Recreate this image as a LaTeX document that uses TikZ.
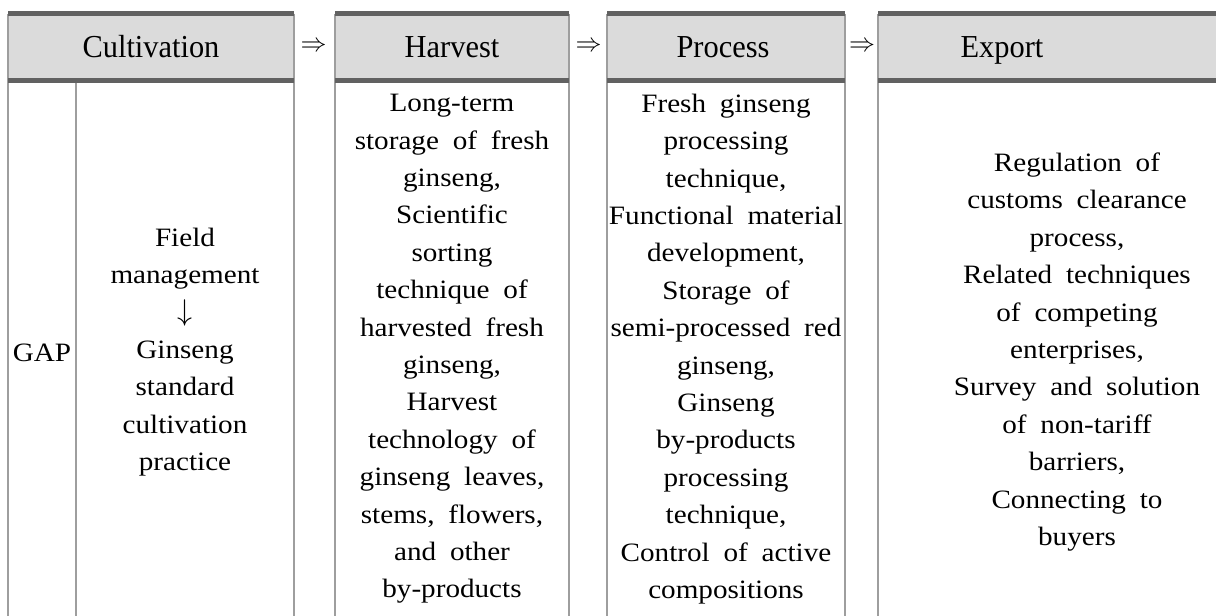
\documentclass[tikz,border=0pt]{standalone}
\usepackage{graphicx}
\usepackage{fontspec}
\setmainfont{Liberation Serif}
\newfontfamily\headfont[FakeStretch=0.95]{Liberation Serif}
\newfontfamily\bodyfont[FakeStretch=1.1,WordSpace=1.9]{Liberation Serif}
\newcommand\bigsign[2]{\scalebox{#1}{\fontsize{10}{10}\selectfont$#2$}}

\begin{document}
\begin{tikzpicture}
[x=1pt, y=-1pt,
every node/.style={inner sep=0pt, align=center},
headtext/.style={font=\headfont\fontsize{32}{32}\selectfont, anchor=base},
bodytext/.style={font=\bodyfont\fontsize{26.5}{37.4}\selectfont},
flow/.style={},
rule/.style={draw=black!38, line width=1.5pt},
thickrule/.style={draw=black!62, line width=5pt},
headfill/.style={fill=black!14},
]
\useasboundingbox (0,0) rectangle (1216,616);
\clip (0,0) rectangle (1216,616);

% column frames
\foreach \l/\r in {8/294, 335/569, 607/845, 878/1240}{
  \fill[headfill] (\l,16) rectangle (\r,78);
  \draw[rule] (\l,630) -- (\l,13.5) (\r,13.5) -- (\r,630);
  \draw[thickrule] (\l,13.5) -- (\r,13.5) (\l,80.5) -- (\r,80.5);
}
\draw[rule] (76,83) -- (76,630);

% headers and flow signs
\node[headtext] (cul-head) at (151,57) {Cultivation};
\node[headtext] (har-head) at (452,57) {Harvest};
\node[headtext] (pro-head) at (723,57) {Process};
\node[headtext] (exp-head) at (1002,57) {Export};
\node[flow] (flow1) at (313.5,47) {\bigsign{2.6}{\Rightarrow}};
\node[flow] (flow2) at (588.5,47) {\bigsign{2.6}{\Rightarrow}};
\node[flow] (flow3) at (862,47) {\bigsign{2.6}{\Rightarrow}};

% column contents
\node[bodytext] (cul-gap) at (42,353) {GAP};
\node[bodytext] (cul-body) at (185,352)
  {Field\\management\\\bigsign{3}{\downarrow}\\Ginseng\\standard\\cultivation\\practice};
\node[bodytext] (har-body) at (452,349)
  {Long-term\\storage of fresh\\ginseng,\\Scientific\\sorting\\technique of\\
   harvested fresh\\ginseng,\\Harvest\\technology of\\ginseng leaves,\\
   stems, flowers,\\and other\\by-products};
\node[bodytext] (pro-body) at (726,349)
  {Fresh ginseng\\processing\\technique,\\Functional material\\development,\\
   Storage of\\semi-processed red\\ginseng,\\Ginseng\\by-products\\processing\\
   technique,\\Control of active\\compositions};
\node[bodytext] (exp-body) at (1077,352)
  {Regulation of\\customs clearance\\process,\\Related techniques\\
   of competing\\enterprises,\\Survey and solution\\of non-tariff\\barriers,\\
   Connecting to\\buyers};
\end{tikzpicture}
\end{document}
